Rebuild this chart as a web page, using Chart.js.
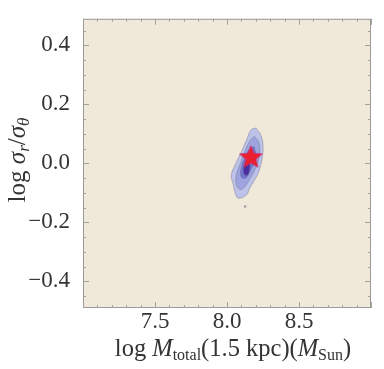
<!DOCTYPE html>
<html>
<head>
<meta charset="utf-8">
<script src="https://cdn.jsdelivr.net/npm/chart.js@4/dist/chart.umd.min.js"></script>
<style>
html,body{margin:0;padding:0;background:#fff;}
#wrap{width:384px;height:369px;position:relative;}
</style>
</head>
<body>
<div id="wrap"><canvas id="c" width="384" height="369"></canvas></div>
<script>
// ---- data ----
const xRange = [7.0, 9.0];
const yRange = [-0.49, 0.49];
const xTickLabels = [7.5, 8.0, 8.5];
const yTickLabels = [-0.4, -0.2, 0.0, 0.2, 0.4];

// contour levels (outer -> inner), vertices [log M, log sr/st]
const contourOuter = [[8.201,0.120],[8.234,0.097],[8.250,0.062],[8.245,0.019],[8.223,-0.025],[8.190,-0.058],[8.157,-0.085],[8.135,-0.107],[8.079,-0.118],[8.058,-0.102],[8.042,-0.069],[8.029,-0.042],[8.058,-0.003],[8.101,0.040],[8.135,0.079],[8.168,0.114]];
const contourMid = [[8.190,0.092],[8.223,0.068],[8.223,0.019],[8.190,-0.025],[8.146,-0.063],[8.101,-0.088],[8.068,-0.076],[8.064,-0.042],[8.091,-0.003],[8.124,0.040],[8.157,0.075]];
const contourInner = [[8.190,0.057],[8.201,0.019],[8.168,-0.020],[8.130,-0.050],[8.097,-0.045],[8.101,-0.009],[8.135,0.030],[8.161,0.051]];
const contourCore = [[8.150,0.015],[8.160,-0.010],[8.142,-0.040],[8.116,-0.034],[8.122,-0.003]];
const speck = [[8.126,-0.146]];
const bestFit = [[8.166,0.023]];

const levelColors = ['#bcc2e8','#9ea4e0','#7076cf','#4a2ca0'];

// ---- drawing ----
function toPts(arr, close){
  const p = arr.map(a=>({x:a[0],y:a[1]}));
  if(close) p.push({x:arr[0][0],y:arr[0][1]});
  return p;
}
function starImage(size,color){
  const c=document.createElement('canvas');c.width=size;c.height=size;
  const g=c.getContext('2d');const cx=size/2,cy=size/2+1,R=size/2-0.5,r=R*0.45;
  g.beginPath();
  for(let i=0;i<10;i++){const a=-Math.PI/2+i*Math.PI/5;const rr=i%2?r:R;
    g.lineTo(cx+rr*Math.cos(a),cy+rr*Math.sin(a));}
  g.closePath();g.fillStyle=color;g.fill();
  g.strokeStyle='rgba(200,40,120,0.6)';g.lineWidth=1;g.stroke();
  return c;
}
const contours=[contourOuter,contourMid,contourInner,contourCore];
const datasets=contours.map((c,i)=>({
  data:toPts(c,true), showLine:true, fill:'shape', tension:0.4,
  backgroundColor:levelColors[i], borderColor:'rgba(110,110,140,0.55)', borderWidth:0.8,
  pointRadius:0, order:10-i
}));
datasets.push({data:toPts(speck,false),showLine:false,pointRadius:1.2,
  backgroundColor:'#9a9aa8',borderWidth:0,order:2});
datasets.push({data:toPts(bestFit,false),showLine:false,pointStyle:starImage(25,'#ea2030'),
  pointRadius:12,order:0});

const fontFam="'Liberation Serif','DejaVu Serif',serif";
const textCol='#333333';

const framePlugin={
  id:'frame',
  beforeDraw(chart){
    const {ctx,chartArea:a}=chart;
    ctx.save();ctx.fillStyle='#f0e9d9';
    ctx.fillRect(a.left,a.top,a.right-a.left,a.bottom-a.top);ctx.restore();
  },
  afterDraw(chart){
    const {ctx,chartArea:a,scales}=chart;
    const xs=scales.x, ys=scales.y;
    ctx.save();
    ctx.strokeStyle='#9a9a9a';ctx.lineWidth=1;
    ctx.strokeRect(a.left+0.5,a.top+0.5,a.right-a.left-1,a.bottom-a.top-1);
    ctx.strokeStyle='#a0a0a0';
    for(let k=Math.ceil(xRange[0]*10);k<=Math.floor(xRange[1]*10);k++){
      const v=k/10;const px=Math.round(xs.getPixelForValue(v))+0.5;
      const L=(k%5===0)?6:3;
      ctx.beginPath();ctx.moveTo(px,a.bottom);ctx.lineTo(px,a.bottom-L);
      ctx.moveTo(px,a.top);ctx.lineTo(px,a.top+L);ctx.stroke();
    }
    for(let k=Math.ceil(yRange[0]*20);k<=Math.floor(yRange[1]*20);k++){
      const v=k/20;const py=Math.round(ys.getPixelForValue(v))+0.5;
      const L=(k%4===0)?6:3;
      ctx.beginPath();ctx.moveTo(a.left,py);ctx.lineTo(a.left+L,py);
      ctx.moveTo(a.right,py);ctx.lineTo(a.right-L,py);ctx.stroke();
    }
    const mk=(big,small)=>(s)=>(s[1]?s[1]+' ':'')+(s[2]?small:big)+'px '+fontFam;
    let fnt=mk(24.5,16);
    const segs=[['log ','',0],['M','italic',0],['total','',1],['(1.5 kpc)(','',0],['M','italic',0],['Sun','',1],[')','',0]];
    let w=0;segs.forEach(s=>{ctx.font=fnt(s);w+=ctx.measureText(s[0]).width;});
    let x=233-w/2;const base=356;
    ctx.fillStyle=textCol;ctx.textBaseline='alphabetic';ctx.textAlign='left';
    segs.forEach(s=>{ctx.font=fnt(s);ctx.fillText(s[0],x,base+(s[2]?4:0));x+=ctx.measureText(s[0]).width;});
    fnt=mk(25,17);
    const ysegs=[['log ','',0],['σ','italic',0],['r','italic',1],['/','',0],['σ','italic',0],['θ','italic',1]];
    w=0;ysegs.forEach(s=>{ctx.font=fnt(s);w+=ctx.measureText(s[0]).width;});
    ctx.translate(25,160);ctx.rotate(-Math.PI/2);
    x=-w/2;
    ysegs.forEach(s=>{ctx.font=fnt(s);ctx.fillText(s[0],x,s[2]?4:0);x+=ctx.measureText(s[0]).width;});
    ctx.restore();
  }
};

const fmt=v=>{const s=Math.abs(v).toFixed(1);return (v< -1e-9?'\u2212':'')+s;};

new Chart(document.getElementById('c'),{
  type:'scatter',
  data:{datasets},
  options:{
    responsive:false,animation:false,
    events:[],
    layout:{padding:{top:10,right:3,left:0,bottom:0}},
    plugins:{legend:{display:false},tooltip:{enabled:false}},
    scales:{
      x:{type:'linear',min:xRange[0],max:xRange[1],
        afterBuildTicks:s=>{s.ticks=xTickLabels.map(v=>({value:v}));},
        afterFit:s=>{s.height=61;},
        grid:{display:false},border:{display:false},
        ticks:{callback:v=>v.toFixed(1),font:{family:fontFam,size:23},color:textCol,padding:-8,maxRotation:0,autoSkip:false}},
      y:{type:'linear',min:yRange[0],max:yRange[1],
        afterBuildTicks:s=>{s.ticks=yTickLabels.map(v=>({value:v}));},
        afterFit:s=>{s.width=83;},
        grid:{display:false},border:{display:false},
        ticks:{callback:v=>fmt(v),font:{family:fontFam,size:23},color:textCol,padding:5,autoSkip:false}}
    }
  },
  plugins:[framePlugin]
});
</script>
</body>
</html>
